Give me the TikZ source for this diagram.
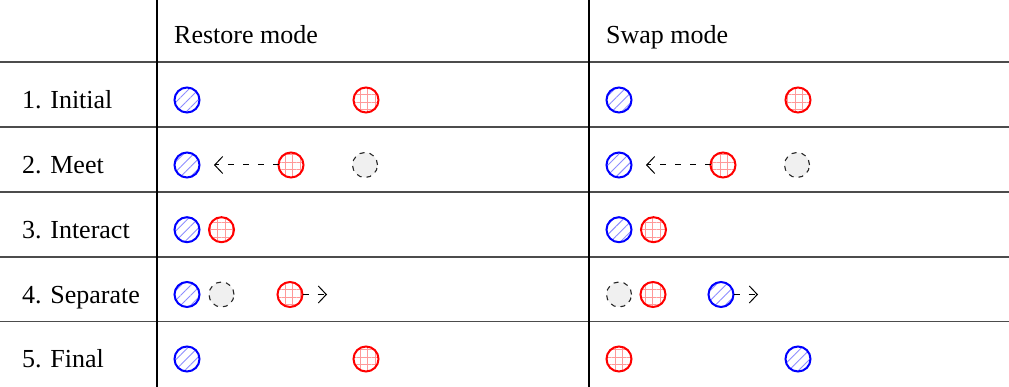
\documentclass[tikz,border=0pt]{standalone}
\usepackage{fontspec}
\setmainfont{Liberation Serif}
\usetikzlibrary{patterns.meta,arrows.meta}

\tikzset{
  disk/.style={circle, minimum size=25pt, inner sep=0pt, outer sep=0pt},
  bluedisk/.style={disk, draw=blue, line width=2pt,
    pattern={Lines[angle=45,distance=7pt,line width=0.9pt]}, pattern color=blue!45},
  reddisk/.style={disk, draw=red, line width=2pt,
    pattern={Hatch[angle=0,distance=7.5pt,line width=0.9pt]}, pattern color=red!40},
  ghostdisk/.style={disk, draw=black!85, fill=black!6, line width=1.1pt,
    dash pattern=on 5pt off 5pt},
  move/.style={draw=black, line width=1pt, dash pattern=on 6pt off 9pt,
    -{Straight Barb[length=8pt,width=17pt,line width=1pt]}},
  rule/.style={line width=1.3pt, draw=black!70},
  vrule/.style={line width=1.2pt, draw=black},
  cell/.style={anchor=base west, inner sep=0pt, font=\fontsize{26}{30}\selectfont}
}

\begin{document}
\begin{tikzpicture}[x=1pt,y=-1pt]
  \useasboundingbox (0,0) rectangle (1009,387);

  % table rules
  \foreach \yy in {62,127,192,257,321.5}
    \draw[rule] (0,\yy) -- (1009,\yy);
  \draw[vrule] (157,0) -- (157,387);
  \draw[vrule] (589,0) -- (589,387);

  % header
  \node[cell] (hr) at (174,43.5) {Restore mode};
  \node[cell] (hs) at (606,43.5) {Swap mode};

  % row labels
  \node[cell] (l1) at (22,108.5) {1. Initial};
  \node[cell] (l2) at (22,173.5) {2. Meet};
  \node[cell] (l3) at (22,238.3) {3. Interact};
  \node[cell] (l4) at (22,303) {4. Separate};
  \node[cell] (l5) at (22,367.5) {5. Final};

  % restore mode column
  \node[bluedisk] (rb1) at (187,100) {};
  \node[reddisk]  (rr1) at (366,100) {};

  \node[bluedisk]  (rb2) at (187,165) {};
  \node[reddisk]   (rr2) at (291,165) {};
  \node[ghostdisk] (rg2) at (365,165) {};
  \coordinate (rt2) at (214,165);
  \draw[move] (rr2.west) -- (rt2);

  \node[bluedisk] (rb3) at (187,229.7) {};
  \node[reddisk]  (rr3) at (221.5,229.7) {};

  \node[bluedisk]  (rb4) at (187,294.5) {};
  \node[ghostdisk] (rg4) at (221.5,294.5) {};
  \node[reddisk]   (rr4) at (290,294.5) {};
  \coordinate (rt4) at (327,294.5);
  \draw[move] (rr4.east) -- (rt4);

  \node[bluedisk] (rb5) at (187,359) {};
  \node[reddisk]  (rr5) at (366,359) {};

  % swap mode column
  \node[bluedisk] (sb1) at (619,100) {};
  \node[reddisk]  (sr1) at (798,100) {};

  \node[bluedisk]  (sb2) at (619,165) {};
  \node[reddisk]   (sr2) at (723,165) {};
  \node[ghostdisk] (sg2) at (797,165) {};
  \coordinate (st2) at (646,165);
  \draw[move] (sr2.west) -- (st2);

  \node[bluedisk] (sb3) at (619,229.7) {};
  \node[reddisk]  (sr3) at (653.5,229.7) {};

  \node[ghostdisk] (sg4) at (619,294.5) {};
  \node[reddisk]   (sr4) at (653,294.5) {};
  \node[bluedisk]  (sb4) at (721,294.5) {};
  \coordinate (st4) at (758,294.5);
  \draw[move] (sb4.east) -- (st4);

  \node[reddisk]  (sr5) at (619,359) {};
  \node[bluedisk] (sb5) at (798,359) {};
\end{tikzpicture}
\end{document}
